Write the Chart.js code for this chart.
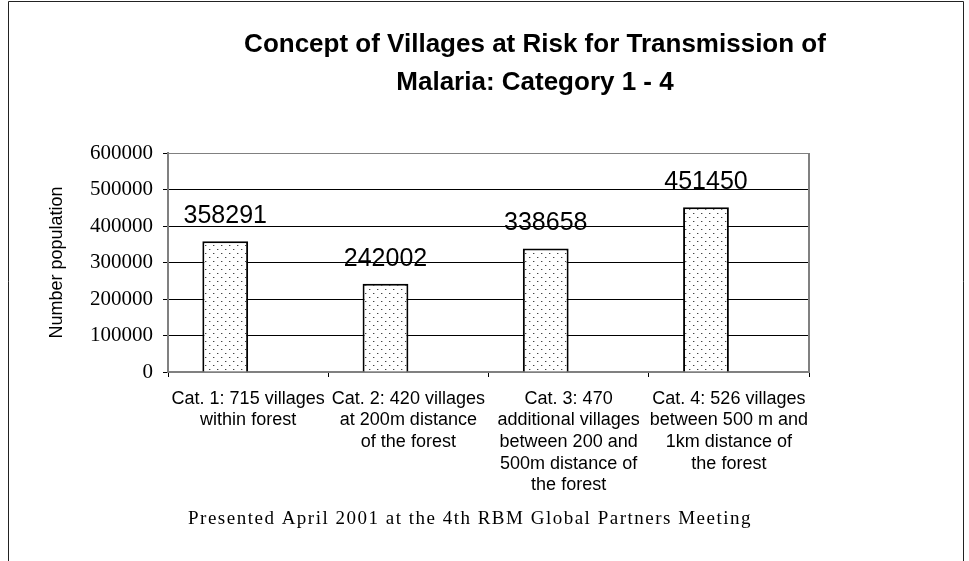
<!DOCTYPE html>
<html>
<head>
<meta charset="utf-8">
<title>Villages at Risk</title>
<script src="https://cdn.jsdelivr.net/npm/chart.js@4.4.0/dist/chart.umd.min.js"></script>
<style>
  body { margin: 0; background: #fff; }
  #wrap { position: absolute; left: 0; top: 0; width: 969px; height: 561px; }
</style>
</head>
<body>
<div id="wrap"><canvas id="riskChart" width="969" height="561"></canvas></div>
<script>
let categories = [
  ["Cat. 1: 715 villages", "within forest"],
  ["Cat. 2: 420 villages", "at 200m distance", "of the forest"],
  ["Cat. 3: 470", "additional villages", "between 200 and", "500m distance of", "the forest"],
  ["Cat. 4: 526 villages", "between 500 m and", "1km distance of", "the forest"],
];
let population = [358291, 242002, 338658, 451450];
let emptySeries = [null, null, null, null];
let yTicks = [0, 100000, 200000, 300000, 400000, 500000, 600000];
let chartTitle = ["Concept of Villages at Risk for Transmission of", "Malaria: Category 1 - 4"];
let footNote = "Presented April 2001 at the 4th RBM Global Partners Meeting";

const sans = "'Liberation Sans', Arial, sans-serif";
const serif = "'Liberation Serif', 'Times New Roman', serif";

// dotted fill like the old excel pattern
function dotPattern() {
  let c = document.createElement("canvas");
  c.width = 8;
  c.height = 8;
  let g = c.getContext("2d");
  g.fillStyle = "#fff";
  g.fillRect(0, 0, 8, 8);
  g.fillStyle = "#444";
  g.fillRect(1, 1, 1, 1);
  g.fillRect(5, 5, 1, 1);
  g.fillStyle = "#bbb";
  g.fillRect(2, 1, 1, 1);
  g.fillRect(6, 5, 1, 1);
  return document.getElementById("riskChart").getContext("2d").createPattern(c, "repeat");
}

const extras = {
  id: "extras",
  beforeDraw(chart) {
    let ctx = chart.ctx;
    ctx.save();
    ctx.fillStyle = "#fff";
    ctx.fillRect(0, 0, chart.width, chart.height);
    // outer frame
    ctx.strokeStyle = "#222";
    ctx.lineWidth = 1;
    ctx.beginPath();
    ctx.moveTo(8.5, 561);
    ctx.lineTo(8.5, 1.5);
    ctx.lineTo(963.5, 1.5);
    ctx.lineTo(963.5, 561);
    ctx.stroke();
    // title, centred on the frame rather than the plot
    ctx.fillStyle = "#000";
    ctx.font = "bold 26px " + sans;
    ctx.textAlign = "center";
    ctx.textBaseline = "middle";
    ctx.fillText(chartTitle[0], 535, 45);
    ctx.fillText(chartTitle[1], 535, 83);
    ctx.restore();
  },
  afterDatasetsDraw(chart) {
    let ctx = chart.ctx;
    let area = chart.chartArea;
    ctx.save();
    // right edge of plot area
    ctx.strokeStyle = "#808080";
    ctx.lineWidth = 2;
    ctx.beginPath();
    ctx.moveTo(area.right, area.top);
    ctx.lineTo(area.right, area.bottom);
    ctx.stroke();
    // value labels
    ctx.fillStyle = "#000";
    ctx.font = "25px " + sans;
    ctx.textAlign = "center";
    ctx.textBaseline = "alphabetic";
    chart.getDatasetMeta(0).data.forEach(function (bar, i) {
      ctx.fillText(String(population[i]), bar.x, bar.y - 18);
    });
    // footnote
    ctx.font = "19px " + serif;
    ctx.letterSpacing = "1.5px";
    ctx.fillText(footNote, 470, 524);
    ctx.restore();
  },
};

let ctx = document.getElementById("riskChart").getContext("2d");
let riskChart = new Chart(ctx, {
  type: "bar",
  data: {
    labels: categories,
    datasets: [
      {
        label: "Population",
        data: population,
        backgroundColor: dotPattern(),
        borderColor: "#000",
        borderWidth: 2,
        borderSkipped: "bottom",
      },
      {
        label: "",
        data: emptySeries,
      },
    ],
  },
  options: {
    responsive: false,
    devicePixelRatio: 1,
    animation: false,
    layout: {
      padding: { left: 42, right: 160, top: 153, bottom: 54 },
    },
    datasets: {
      bar: {
        categoryPercentage: 2 / 3.5,
        barPercentage: 1,
      },
    },
    scales: {
      x: {
        grid: {
          offset: true,
          drawOnChartArea: false,
          drawTicks: true,
          tickLength: 5,
          tickColor: "#000",
        },
        border: { color: "#808080", width: 2 },
        ticks: {
          color: "#000",
          maxRotation: 0,
          autoSkip: false,
          padding: 11,
          font: { family: sans, size: 18, lineHeight: 1.2 },
        },
      },
      y: {
        min: 0,
        max: 600000,
        afterBuildTicks: function (axis) {
          axis.ticks = yTicks.map(function (v) {
            return { value: v };
          });
        },
        afterFit: function (axis) {
          axis.width = 126;
        },
        grid: {
          color: function (c) {
            return c.tick && c.tick.value === 600000 ? "#808080" : "#000";
          },
          lineWidth: 1,
          drawTicks: true,
          tickLength: 5,
          tickColor: "#000",
        },
        border: { color: "#808080", width: 2 },
        ticks: {
          color: "#000",
          padding: 10,
          font: { family: serif, size: 21 },
          callback: function (v) {
            return String(v);
          },
        },
        title: {
          display: true,
          text: "Number population",
          color: "#000",
          font: { family: sans, size: 18 },
          padding: { top: 4, bottom: 4 },
        },
      },
    },
    plugins: {
      legend: { display: false },
      tooltip: { enabled: false },
      title: { display: false },
    },
  },
  plugins: [extras],
});
</script>
</body>
</html>
